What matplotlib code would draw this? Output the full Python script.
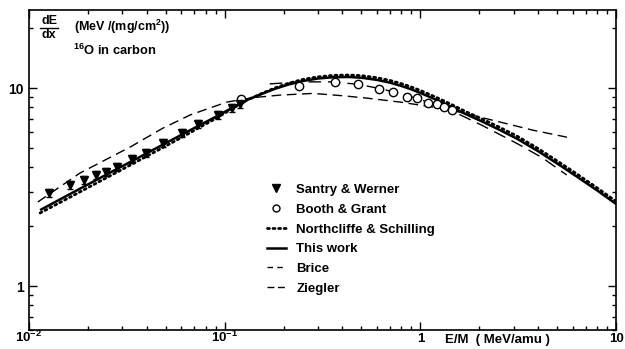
import matplotlib
matplotlib.use("Agg")
import matplotlib.pyplot as plt
from matplotlib.lines import Line2D
from matplotlib.ticker import LogLocator, NullFormatter

plt.rcParams["font.family"] = ["Liberation Sans", "DejaVu Sans"]
plt.rcParams["font.weight"] = "bold"
plt.rcParams["mathtext.fontset"] = "custom"
plt.rcParams["mathtext.rm"] = "Liberation Sans:bold"
plt.rcParams["mathtext.bf"] = "Liberation Sans:bold"
plt.rcParams["mathtext.it"] = "Liberation Sans:bold"

# ------------------------------
# data
# ------------------------------
# Santry & Werner (triangles with error bars)
sw_e = [0.0127, 0.0162, 0.0190, 0.0220, 0.0247, 0.0282, 0.0336, 0.0396,
        0.0484, 0.0605, 0.0731, 0.0925, 0.109, 0.120]
sw_s = [2.96, 3.24, 3.43, 3.64, 3.77, 3.99, 4.38, 4.70,
        5.27, 5.93, 6.58, 7.31, 7.92, 8.30]
sw_err = [0.14, 0.15, 0.16, 0.17, 0.17, 0.18, 0.20, 0.21,
          0.24, 0.26, 0.29, 0.32, 0.35, 0.37]

# Booth & Grant (open circles)
bg_e = [0.121, 0.240, 0.366, 0.480, 0.614, 0.724, 0.855, 0.96,
        1.094, 1.216, 1.32, 1.45]
bg_s = [8.80, 10.23, 10.72, 10.47, 9.88, 9.55, 9.05, 8.90,
        8.45, 8.30, 8.02, 7.78]

# This work (solid)
tw_e = [0.0114, 0.015, 0.02, 0.027, 0.035, 0.045, 0.06, 0.075, 0.09, 0.11,
        0.13, 0.155, 0.18, 0.21, 0.25, 0.3, 0.36, 0.43, 0.5, 0.6, 0.7, 0.8,
        0.9, 1.0, 1.2, 1.42, 1.7, 2.09, 2.5, 3.12, 4.0, 5.36, 6.5, 7.98, 10.0]
tw_s = [2.42, 2.80, 3.26, 3.82, 4.37, 4.99, 5.80, 6.52, 7.16, 7.98,
        8.70, 9.35, 9.90, 10.40, 10.85, 11.18, 11.35, 11.38, 11.28, 11.0, 10.65, 10.25,
        9.85, 9.45, 8.75, 8.10, 7.40, 6.75, 6.20, 5.55, 4.80, 3.98, 3.50, 3.05, 2.60]

# Northcliffe & Schilling (dotted)
ns_e = tw_e
ns_s = [2.34, 2.70, 3.14, 3.68, 4.22, 4.82, 5.62, 6.36, 7.02, 7.90,
        8.70, 9.40, 10.0, 10.55, 11.05, 11.40, 11.60, 11.64, 11.56, 11.28, 10.93, 10.53,
        10.13, 9.73, 9.00, 8.33, 7.62, 6.95, 6.39, 5.72, 4.95, 4.10, 3.61, 3.14, 2.68]

# Brice (short dashes)
br_e = [0.0111, 0.0182, 0.025, 0.0328, 0.0484, 0.0665, 0.08, 0.1027, 0.14,
        0.192, 0.283, 0.4, 0.533, 0.787, 1.16, 1.59, 2.55, 3.76, 5.61]
br_s = [2.66, 3.72, 4.38, 5.03, 6.28, 7.31, 7.80, 8.50, 8.95,
        9.22, 9.40, 9.15, 8.90, 8.50, 8.02, 7.56, 6.74, 6.13, 5.65]

# Ziegler (long dashes)
zi_e = [0.17, 0.243, 0.357, 0.48, 0.62, 0.787, 1.0, 1.42, 2.09, 3.12, 4.2, 5.6]
zi_s = [10.5, 10.75, 10.75, 10.45, 9.95, 9.40, 8.75, 7.75, 6.45, 5.25, 4.45, 3.64]

labels = ["Santry & Werner", "Booth & Grant", "Northcliffe & Schilling",
          "This work", "Brice", "Ziegler"]

# ------------------------------
# figure
# ------------------------------
W, H = 625, 349
fig = plt.figure(figsize=(W / 100, H / 100), dpi=100)
ax = fig.add_axes([29 / W, 1 - 330 / H, (616 - 29) / W, (330 - 10) / H])

ax.plot(tw_e, tw_s, color="black", lw=1.8, solid_capstyle="butt")
ax.plot(ns_e, ns_s, color="black", lw=2.0, linestyle=(0, (0.7, 1.3)),
        dash_capstyle="round")
ax.plot(br_e, br_s, color="black", lw=1.0, linestyle=(0, (7, 4)))
ax.plot(zi_e, zi_s, color="black", lw=1.0, linestyle=(0, (9, 5)))
ax.errorbar(sw_e, sw_s, yerr=sw_err, fmt="v", color="black", ms=5.5,
            elinewidth=1.0, capsize=2, capthick=1.0)
ax.plot(bg_e, bg_s, "o", mfc="white", mec="black", mew=1.0, ms=6)

ax.set_xscale("log")
ax.set_yscale("log")
ax.set_xlim(0.01, 10)
ax.set_ylim(0.6, 24.8)

ax.set_xticks([0.01, 0.1, 1, 10], [r"$10^{-2}$", r"$10^{-1}$", "1", "10"])
ax.set_yticks([1, 10], ["1", "10"])
for a in (ax.xaxis, ax.yaxis):
    a.set_minor_locator(LogLocator(base=10, subs=range(2, 10)))
    a.set_minor_formatter(NullFormatter())
ax.tick_params(which="both", direction="in", top=True, right=True,
               labelsize=10, width=1.0)
ax.tick_params(which="major", length=6)
ax.tick_params(which="minor", length=3)
ax.tick_params(axis="x", pad=9, labelsize=9.5)
ax.tick_params(axis="y", pad=4)
for lbl in ax.get_xticklabels():
    lbl.set_verticalalignment("baseline")
for sp in ax.spines.values():
    sp.set_linewidth(1.2)

# legend
handles = [
    Line2D([], [], marker="v", color="black", ls="none", ms=5.5),
    Line2D([], [], marker="o", mfc="white", mec="black", ls="none", ms=5),
    Line2D([], [], color="black", lw=2.0, linestyle=(0, (0.7, 1.3)), dash_capstyle="round"),
    Line2D([], [], color="black", lw=1.8),
    Line2D([], [], color="black", lw=1.0, linestyle=(0, (4, 3))),
    Line2D([], [], color="black", lw=1.0, linestyle=(0, (5, 2.5))),
]
ax.legend(handles, labels, loc="upper left", bbox_to_anchor=(0.3845, 0.494),
          frameon=False, handlelength=1.5, handletextpad=0.75,
          labelspacing=0.57, prop={"family": "Liberation Sans", "weight": "bold", "size": 9.5})

# axis annotations
def px(x, y):
    return x / W, 1 - y / H

fig.text(*px(49, 21), "dE", ha="center", va="center", fontsize=9)
fig.text(*px(49, 35), "dx", ha="center", va="center", fontsize=9)
fig.add_artist(Line2D([40 / W, 58 / W], [1 - 28 / H, 1 - 28 / H],
                      color="black", lw=1.0))
fig.text(*px(74, 27), "(MeV /(mg/cm$^{2}$))", ha="left", va="center", fontsize=9)
fig.text(*px(73, 50), r"$^{16}$O in carbon", ha="left", va="center", fontsize=9.3)
fig.text(*px(445, 343), "E/M  ( MeV/amu )", ha="left", va="baseline", fontsize=9.5)

fig.savefig("out.png", dpi=100)
